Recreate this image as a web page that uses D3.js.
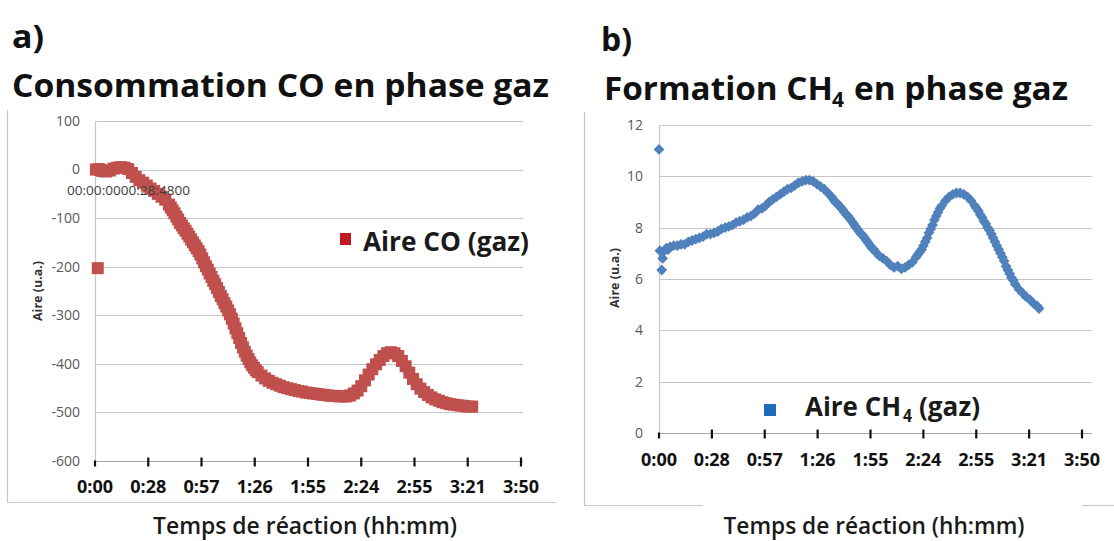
<!DOCTYPE html>
<html><head><meta charset="utf-8">
<script src="https://cdn.jsdelivr.net/npm/d3@7"></script>
<style>html,body{margin:0;padding:0;background:#fff;}svg{display:block;}</style>
</head><body>
<script>
// ---- data ----
const xTickMinutes = [0, 28.8, 57.6, 86.4, 115.2, 144, 172.8, 201.6, 230.4];
const xTickLabels = ["0:00","0:28","0:57","1:26","1:55","2:24","2:55","3:21","3:50"];
const coYTicks = [100, 0, -100, -200, -300, -400, -500, -600];
const ch4YTicks = [0, 2, 4, 6, 8, 10, 12];

const coTime = [0.5,1.5,2,3,4,6,8,10,12,14,16,18,20,22,24,26,28,30,32,34,36,38,40,41,42,43,44,45,46,47,48,49,50,51,52,53,54,55,56,57,58,59,60,61,62,63,64,65,66,67,68,69,70,71,72,73,74,75,76,77,78,79,80,81,82,83,84,85,86,87,88,90,92,94,96,98,100,102,104,106,108,110,112,114,116,118,120,122,124,126,128,130,132,134,136,138,140,142,144,146,148,150,152,154,156,158,160,162,164,166,168,170,172,174,176,178,180,182,184,186,188,190,192,194,196,198,200,202,204];
const coArea = [0,-203,1,-1,-3,-4,-2,2,4,5,4,1,-7,-15,-22,-27,-33,-39,-44,-50,-56,-62,-72,-78,-84,-90,-97,-103,-110,-115,-121,-126,-132,-138,-144,-150,-156,-162,-168,-175,-183,-191,-199,-206,-214,-221,-229,-236,-244,-252,-260,-267,-275,-282,-290,-298,-307,-317,-327,-337,-347,-357,-366,-375,-383,-390,-397,-403,-408,-413,-417,-424,-430,-435,-439,-442,-445,-448,-450,-452,-454,-456,-457,-459,-460,-461,-462,-463,-464,-465,-466,-466,-467,-467,-467,-465,-461,-455,-446,-434,-422,-411,-401,-392,-384,-378,-376,-378,-384,-394,-405,-418,-431,-442,-451,-458,-464,-469,-473,-476,-479,-481,-483,-484,-485,-486,-487,-488,-488];

const ch4Time = [0,0.5,1.5,2,3,4,5,6,8,10,12,14,16,18,20,22,24,26,28,30,32,34,36,38,40,42,44,46,48,50,52,54,56,58,60,62,64,66,68,70,72,74,76,78,80,82,84,86,88,90,92,94,95,96,97,98,99,100,101,102,103,104,105,106,107,108,109,110,111,112,113,114,115,116,117,118,120,122,124,126,128,130,132,134,136,138,140,141,142,143,144,145,146,147,148,149,150,151,152,153,154,156,158,160,162,164,166,168,170,172,173,174,175,176,177,178,179,180,181,182,183,184,185,186,187,188,189,190,191,192,193,194,196,198,200,202,204,206,207];
const ch4Area = [11.05,7.1,6.35,6.8,7.1,7.2,7.15,7.25,7.3,7.3,7.35,7.35,7.45,7.5,7.55,7.6,7.65,7.75,7.75,7.8,7.85,7.95,8.0,8.05,8.1,8.2,8.25,8.3,8.4,8.45,8.55,8.7,8.75,8.85,9.0,9.1,9.2,9.3,9.4,9.5,9.55,9.65,9.75,9.8,9.85,9.85,9.8,9.7,9.6,9.5,9.35,9.2,9.1,9.0,8.95,8.85,8.8,8.7,8.6,8.5,8.45,8.35,8.25,8.15,8.05,7.95,7.85,7.75,7.7,7.6,7.5,7.4,7.3,7.2,7.15,7.05,6.9,6.8,6.7,6.55,6.45,6.5,6.4,6.45,6.55,6.65,6.85,6.95,7.05,7.15,7.3,7.45,7.6,7.8,7.95,8.1,8.3,8.45,8.6,8.75,8.85,9.05,9.2,9.3,9.35,9.35,9.3,9.2,9.05,8.85,8.75,8.65,8.5,8.4,8.25,8.15,8.0,7.9,7.75,7.6,7.45,7.3,7.15,7.0,6.85,6.7,6.5,6.35,6.2,6.05,5.95,5.8,5.6,5.45,5.3,5.2,5.05,4.95,4.85];

const coColor = "#C0504D", ch4Color = "#4F81BD";
const font = "'Open Sans', 'DejaVu Sans', sans-serif";

const svg = d3.select("body").append("svg").attr("width", 1114).attr("height", 541)
  .style("font-family", font);

// ---- frames ----
const frame = svg.append("g").attr("stroke", "#C8C8C8").attr("stroke-width", 1.2).attr("fill", "none");
frame.append("path").attr("d", "M7.5,110 V502.5 H556");
frame.append("path").attr("d", "M584.5,112 V505.5 H703");
frame.append("path").attr("d", "M1082,505.5 H1114");

// ---- titles ----
function bold(x, y, txt, size, len) {
  const t = svg.append("text").attr("x", x).attr("y", y).attr("font-size", size).attr("font-weight", 700)
    .attr("fill", "#111").text(txt);
  if (len) t.attr("textLength", len).attr("lengthAdjust", "spacingAndGlyphs");
  return t;
}
bold(12, 48, "a)", 32, 32);
bold(12, 97, "Consommation CO en phase gaz", 32, 537);
bold(601, 51, "b)", 32, 31);
bold(604, 100, "Formation CH", 32, 229);
bold(832, 107, "4", 21, 12);
bold(854, 100, "en phase gaz", 32, 214);

// ---- generic panel ----
function panel(cfg) {
  const x = d3.scaleLinear().domain([0, 230.4]).range(cfg.xr);
  const y = d3.scaleLinear().domain(cfg.yd).range(cfg.yr);
  const g = svg.append("g");
  g.append("g").selectAll("line").data(cfg.yTicks.filter(d => d !== cfg.yd[0])).join("line")
    .attr("x1", cfg.xr[0]).attr("x2", cfg.gridEnd)
    .attr("y1", d => Math.round(y(d)) + 0.5).attr("y2", d => Math.round(y(d)) + 0.5)
    .attr("stroke", "#C6C6C6").attr("stroke-width", 1.2);
  g.append("line").attr("x1", cfg.xr[0] + 0.5).attr("x2", cfg.xr[0] + 0.5)
    .attr("y1", cfg.yr[1]).attr("y2", cfg.yr[0]).attr("stroke", "#C6C6C6").attr("stroke-width", 1.2);
  g.append("g").selectAll("text").data(cfg.yTicks).join("text")
    .attr("x", cfg.yLabelX).attr("y", d => y(d)).attr("dy", "0.35em").attr("text-anchor", "end")
    .attr("font-size", 14).attr("fill", "#595959").text(d => d);
  const ay = Math.round(y(cfg.yd[0])) + 0.5;
  g.append("line").attr("x1", cfg.xr[0]).attr("x2", cfg.gridEnd).attr("y1", ay).attr("y2", ay)
    .attr("stroke", "#A8A8A8").attr("stroke-width", 1.2);
  g.append("g").selectAll("line").data(xTickMinutes).join("line")
    .attr("x1", d => x(d)).attr("x2", d => x(d))
    .attr("y1", (d, i) => i === 0 ? ay - 1 : ay - 4).attr("y2", ay + 5)
    .attr("stroke", "#111").attr("stroke-width", 2.2);
  g.append("g").selectAll("text").data(xTickMinutes).join("text")
    .attr("x", d => x(d)).attr("y", cfg.xLabelY).attr("text-anchor", "middle")
    .attr("font-size", 18).attr("font-weight", 700).attr("fill", "#111")
    .text((d, i) => xTickLabels[i]);
  g.append("text").attr("transform", `translate(${cfg.yTitleX},${cfg.yTitleY}) rotate(-90)`)
    .attr("text-anchor", "middle").attr("font-size", 12.5).attr("font-weight", 700).attr("fill", "#333")
    .text("Aire (u.a.)");
  g.append("text").attr("x", cfg.xTitleX).attr("y", 534).attr("text-anchor", "middle")
    .attr("font-size", 24).attr("font-weight", 600).attr("fill", "#1a1a1a")
    .attr("textLength", cfg.xTitleLen).attr("lengthAdjust", "spacingAndGlyphs")
    .text("Temps de réaction (hh:mm)");
  return {x, y, g};
}

// ---- panel a ----
const A = panel({xr: [95, 521], yd: [-600, 100], yr: [461, 121], yTicks: coYTicks, gridEnd: 523,
  yLabelX: 80, xLabelY: 493, yTitleX: 42, yTitleY: 291, xTitleX: 305, xTitleLen: 304});
svg.append("text").attr("x", 67).attr("y", 195).attr("font-size", 12).attr("fill", "#404040")
  .attr("textLength", 123).attr("lengthAdjust", "spacingAndGlyphs").text("00:00:0000:28:4800");
A.g.append("g").selectAll("rect").data(coTime).join("rect")
  .attr("x", (d) => A.x(d) - 6).attr("y", (d, i) => A.y(coArea[i]) - 6)
  .attr("width", 12).attr("height", 12).attr("fill", coColor);
svg.append("rect").attr("x", 340).attr("y", 233).attr("width", 11).attr("height", 12).attr("fill", "#C0181E");
bold(363, 251, "Aire CO (gaz)", 26, 166).attr("fill", "#1a1a1a");

// ---- panel b ----
const B = panel({xr: [659, 1082], yd: [0, 12], yr: [433, 125], yTicks: ch4YTicks, gridEnd: 1092,
  yLabelX: 643, xLabelY: 466, yTitleX: 619, yTitleY: 278, xTitleX: 874, xTitleLen: 301});
const dSize = 5.4;
B.g.append("g").selectAll("path").data(ch4Time).join("path")
  .attr("transform", (d, i) => `translate(${B.x(d)},${B.y(ch4Area[i])})`)
  .attr("d", `M0,${-dSize}L${dSize},0L0,${dSize}L${-dSize},0Z`).attr("fill", ch4Color);
svg.append("rect").attr("x", 764).attr("y", 404).attr("width", 12).attr("height", 12).attr("fill", "#1F6CBF");
bold(805, 416, "Aire CH", 27, 96).attr("fill", "#1a1a1a");
bold(903, 422, "4", 17, 9).attr("fill", "#1a1a1a");
bold(919, 416, "(gaz)", 27, 61).attr("fill", "#1a1a1a");
</script>
</body></html>
